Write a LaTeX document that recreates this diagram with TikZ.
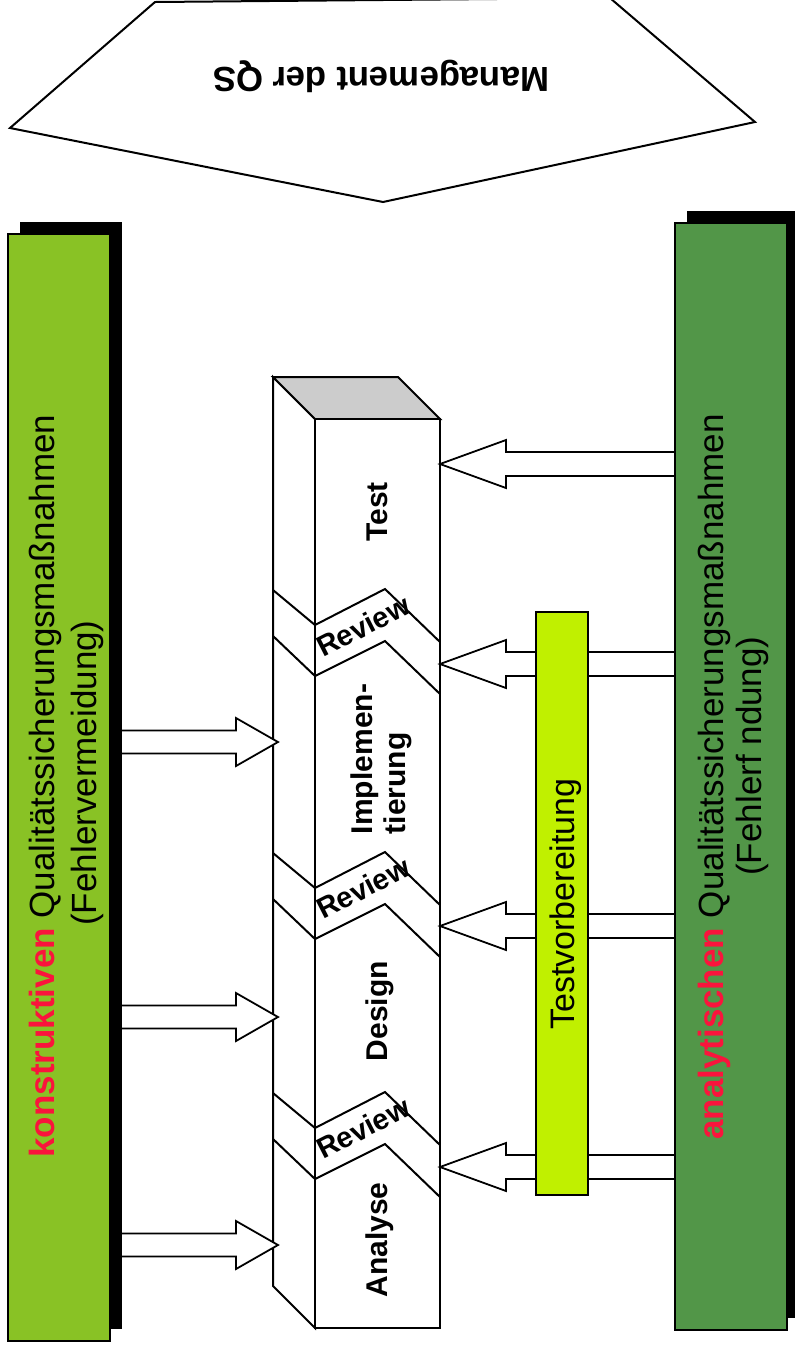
\documentclass[tikz,border=0pt]{standalone}
\usepackage{fontspec}
\setmainfont{Liberation Sans}
\usetikzlibrary{math}
\definecolor{hellgruen}{RGB}{137,194,37}
\definecolor{dunkelgruen}{RGB}{82,150,72}
\definecolor{gelbgruen}{RGB}{192,240,0}
\definecolor{signalrot}{RGB}{250,20,60}
\definecolor{deckel}{RGB}{204,204,204}

\begin{document}
\begin{tikzpicture}[x=0.5pt,y=-0.5pt,
  phase/.style={font=\bfseries\fontsize{15}{16.5}\selectfont,inner sep=0pt},
  balken/.style={draw=black,line width=0.6pt,inner sep=0pt},
  balkentext/.style={rotate=90,inner sep=0pt,font=\fontsize{17.5}{22}\selectfont},
  pfeil/.style={draw=black,fill=white,line width=0.9pt}]
  \useasboundingbox (0,0) rectangle (794,1346);
  \tikzmath{
    real \Xback,\Xfront,\Xright,\Ytop,\Ybottom,\Tief;
    \Xback=273;
    \Xfront=315;
    \Xright=440;
    \Ytop=419;
    \Ybottom=1328;
    \Tief=42;
  }

  \draw[line width=1pt,fill=white] (155,2) -- (10,128) -- (383,202) -- (755,122) -- (610,-2) -- cycle;
  \node[font=\bfseries\fontsize{17.4}{20}\selectfont,rotate=180] (mgmt) at (381,76) {Management der QS};

  \draw[line width=1pt,fill=white] (\Xback,\Ytop-\Tief) -- (\Xfront,\Ytop) -- (\Xfront,\Ybottom) -- (\Xback,\Ybottom-\Tief) -- cycle;
  \draw[line width=1pt,fill=deckel] (\Xback,\Ytop-\Tief) -- (\Xright-\Tief,\Ytop-\Tief) -- (\Xright,\Ytop) -- (\Xfront,\Ytop) -- cycle;
  \draw[line width=1pt,fill=white] (\Xfront,\Ytop) rectangle (\Xright,\Ybottom);
  \foreach \L in {590,853,1093} {
    \draw[line width=1pt] (\Xback,\L) -- (\Xfront,\L+35) -- (385,\L-1) -- (\Xright,\L+52);
    \draw[line width=1pt] (\Xback,\L+46) -- (\Xfront,\L+86) -- (385,\L+51) -- (\Xright,\L+104);
  }
  \foreach \y [count=\i] in {626,888,1128}
    \node[phase,font=\bfseries\fontsize{14.5}{16.5}\selectfont,rotate=27] (review\i) at (363,\y) {Review};
  \node[phase,rotate=90] (test) at (377,512) {Test};
  \node[phase,rotate=90,align=left] (impl) at (381,759) {Implemen-\\tierung};
  \node[phase,rotate=90] (design) at (380,1011) {Design};
  \node[phase,rotate=90] (analyse) at (380,1240) {Analyse};

  \foreach \y in {742,1017,1245}
    \draw[pfeil] (110,\y-11.5) -- (236,\y-11.5) -- (236,\y-24) -- (278,\y) -- (236,\y+24) -- (236,\y+11.5) -- (110,\y+11.5) -- cycle;
  \foreach \y in {464,664,926,1167}
    \draw[pfeil] (675,\y-12) -- (506,\y-12) -- (506,\y-24) -- (\Xright,\y) -- (506,\y+24) -- (506,\y+12) -- (675,\y+12) -- cycle;

  \fill[black] (20,222) rectangle (122,1329);
  \fill[black] (687,211) rectangle (799,1318);
  \node[balken,fill=hellgruen,minimum width=51pt,minimum height=553.5pt] (konstr) at (59,787.5) {};
  \node[balken,fill=dunkelgruen,minimum width=56pt,minimum height=553.5pt] (analyt) at (731,776.5) {};
  \node[balken,fill=gelbgruen,line width=1.2pt,minimum width=26pt,minimum height=291.5pt] (testvorb) at (562,903.5) {};

  \node[balkentext] (konstr1) at (45,786) {{\bfseries\color{signalrot}konstruktiven} Qualitätssicherungsmaßnahmen};
  \node[balkentext] (konstr2) at (87,773) {(Fehlervermeidung)};
  \node[balkentext] (analyt1) at (714,777) {{\bfseries\color{signalrot}analytischen} Qualitätssicherungsmaßnahmen};
  \node[balkentext] (analyt2) at (752,756) {(Fehlerf ndung)};
  \node[balkentext,font=\fontsize{17}{20}\selectfont] (testvorbtext) at (566,904) {Testvorbereitung};
\end{tikzpicture}
\end{document}
